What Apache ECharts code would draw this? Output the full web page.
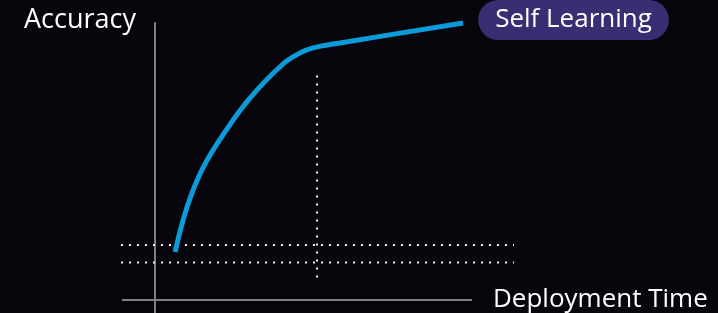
<!DOCTYPE html>
<html>
<head>
<meta charset="utf-8">
<script src="https://cdn.jsdelivr.net/npm/echarts@6/dist/echarts.min.js"></script>
<style>
  html, body { margin: 0; padding: 0; background: #07060c; }
  #chart { width: 718px; height: 313px; }
</style>
</head>
<body>
<div id="chart"></div>
<script>
// curve: deployment time vs accuracy
var time_x = [0.62, 0.99, 1.48, 2.16, 2.93, 3.95, 4.48, 4.88, 5.71, 9.51];
var accuracy_y = [17.3, 33.6, 47.7, 60.7, 72.9, 85.2, 89.2, 91.0, 92.8, 100.0];

// dotted guide lines
var guide_levels = [19.9, 13.5];     // horizontal guides (accuracy)
var guide_span = [-1.05, 11.08];     // time range of the horizontal guides
var cut_time = 5.0;                  // vertical guide (time)
var cut_span = [8.1, 81.8];          // accuracy range of the vertical guide
var time_axis_span = [-1.0185, 9.784]; // drawn length of the time axis

var seriesName = 'Self Learning';
var dotColor = '#f2f2f2';
var axisColor = '#7f7f82';

function pairs(xs, ys) {
    var out = [];
    for (var i = 0; i < xs.length; i++) {
        out.push([xs[i], ys[i]]);
    }
    return out;
}

function guideSeries() {
    var list = [];
    // time axis line (shorter than the grid)
    list.push({
        type: 'line',
        silent: true,
        symbol: 'none',
        data: [[time_axis_span[0], 0], [time_axis_span[1], 0]],
        lineStyle: { color: axisColor, width: 2 }
    });
    for (var i = 0; i < guide_levels.length; i++) {
        list.push({
            type: 'line',
            silent: true,
            symbol: 'none',
            data: [[guide_span[0], guide_levels[i]], [guide_span[1], guide_levels[i]]],
            lineStyle: { color: dotColor, width: 2, type: [2, 6] }
        });
    }
    list.push({
        type: 'line',
        silent: true,
        symbol: 'none',
        data: [[cut_time, cut_span[0]], [cut_time, cut_span[1]]],
        lineStyle: { color: dotColor, width: 2, type: [2, 6] }
    });
    return list;
}

function madeChart() {
    var myChart = echarts.init(document.getElementById('chart'));

    var font = 'Open Sans';
    var series = guideSeries();
    series.push({
        name: seriesName,
        type: 'line',
        symbol: 'none',
        smooth: 0.4,
        data: pairs(time_x, accuracy_y),
        lineStyle: { color: '#0a9bd8', width: 5, cap: 'butt' },
        endLabel: {
            show: true,
            formatter: seriesName,
            color: '#ffffff',
            fontFamily: font,
            fontSize: 26,
            backgroundColor: '#3a2e72',
            borderRadius: 20,
            padding: [7, 17, 7, 17],
            distance: 15,
            offset: [0, -3]
        }
    });

    var option = {
        backgroundColor: '#07060c',
        animation: false,
        grid: { left: 122, right: 204, top: 23, bottom: 0 },
        xAxis: {
            type: 'value',
            min: -1.0185,
            max: 11.08,
            name: 'Deployment Time',
            nameLocation: 'end',
            nameGap: -21,
            nameTextStyle: { color: '#ffffff', fontFamily: font, fontSize: 26 },
            axisLine: { show: false },
            axisTick: { show: false },
            axisLabel: { show: false },
            splitLine: { show: false }
        },
        yAxis: {
            type: 'value',
            min: -4.693,
            max: 100,
            name: 'Accuracy',
            nameLocation: 'end',
            nameGap: 3,
            nameTextStyle: {
                color: '#ffffff', fontFamily: font, fontSize: 27,
                align: 'right', verticalAlign: 'middle', padding: [0, 19, 0, 0]
            },
            axisLine: { onZero: true, lineStyle: { color: axisColor, width: 2 } },
            axisTick: { show: false },
            axisLabel: { show: false },
            splitLine: { show: false }
        },
        series: series
    };

    myChart.setOption(option);
}

madeChart();
</script>
</body>
</html>
